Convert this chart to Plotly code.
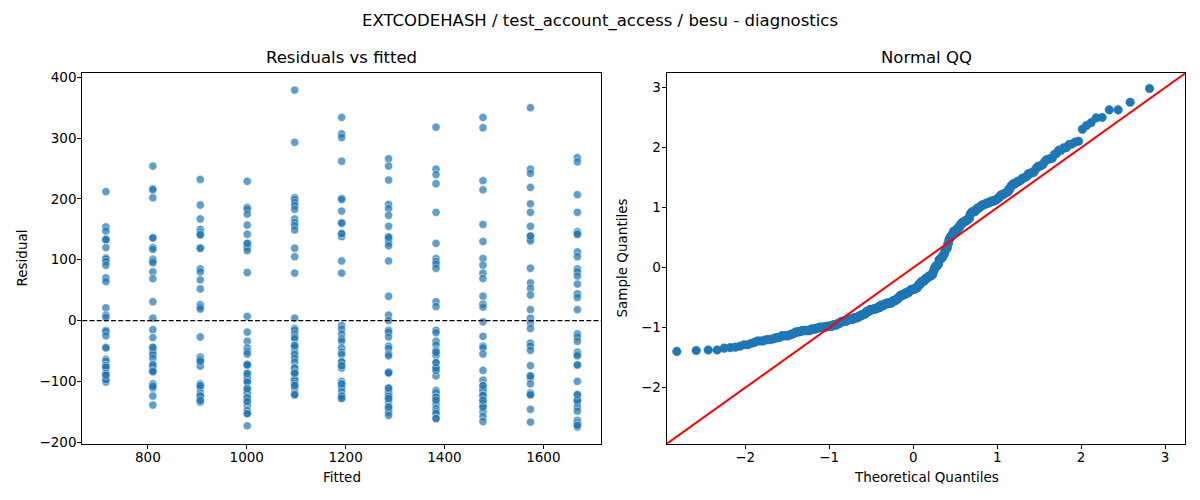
import numpy as np
from statistics import NormalDist
import plotly.graph_objects as go
from plotly.subplots import make_subplots

# ---- data ----
fitted_levels = [715, 810, 906, 1001, 1097, 1192, 1287, 1383, 1478, 1574, 1669]

res_715 = [212, 154, 147, 134, 133, 120, 103, 101, 97, 91, 70, 64, 21, 9, 5, -16, -18, -25, -44, -45,
           -64, -67, -74, -77, -87, -90, -97, -101, 133, -97, -74, -77, -87, -90]
res_810 = [254, 217, 215, 202, 136, 120, 117, 101, 98, 95, 80, 69, 31, 4, -15, -28, -44, -48, -52, -56,
           -62, -73, -77, -82, -84, -104, -108, -111, -124, -139, 136, -108, -73, -82, -84, -44]
res_906 = [232, 190, 167, 150, 145, 141, 119, 119, 85, 80, 67, 52, 26, 22, 19, -27, -60, -64, -67, -75,
           -104, -107, -111, -119, -124, -131, -134, 141, -124, -131, -107, -64, -67]
res_1001 = [229, 186, 183, 175, 157, 142, 127, 124, 120, 115, 79, 7, -19, -34, -45, -51, -55, -72, -73, -87,
            -91, -96, -101, -112, -116, -120, -127, -133, -140, -148, -153, -173, 127, -153, -127, -133,
            -101, -112, -72, -73, -87]
res_1097 = [379, 293, 202, 199, 194, 189, 183, 167, 161, 156, 149, 119, 105, 78, 4, -13, -16, -22, -27, -30,
            -41, -44, -52, -56, -62, -68, -78, -85, -87, -96, -98, -104, -107, -112, -119, -122, -122,
            -98, -104, -107, -78, -85, -87, -41]
res_1192 = [334, 307, 301, 262, 201, 199, 180, 161, 160, 143, 138, 98, 78, -8, -14, -22, -30, -34, -45, -52,
            -56, -68, -74, -78, -100, -104, -107, -111, -117, -124, -128, 143, -124, -128, -104, -68, -74]
res_1287 = [266, 254, 231, 191, 184, 173, 155, 137, 134, 128, 123, 98, 40, 9, 0, -16, -19, -27, -42, -46,
            -55, -58, -85, -86, -111, -115, -119, -124, -128, -134, -142, -146, -151, -156, 137, -142,
            -124, -128, -111, -85, -86]
res_1383 = [318, 249, 240, 225, 178, 127, 102, 97, 93, 86, 31, 23, -16, -20, -34, -40, -49, -52, -57, -69,
            -78, -82, -91, -115, -119, -126, -131, -138, -145, -150, -153, -161, -161, -126, -131, -82,
            -78, -69, -52]
res_1478 = [334, 317, 230, 215, 158, 130, 102, 91, 78, 69, 40, 27, 22, -2, -26, -42, -45, -55, -82, -98,
            -107, -112, -116, -123, -131, -137, -142, -150, -158, -166, -142, -123, -131, -107]
res_1574 = [350, 249, 242, 219, 192, 178, 155, 139, 135, 131, 86, 62, 53, 42, 18, 4, -4, -13, -37, -42,
            -49, -74, -91, -95, -104, -119, -122, -146, -167, 139, -122, -91]
res_1669 = [268, 261, 207, 178, 146, 142, 113, 105, 85, 80, 73, 60, 44, 38, 18, -22, -27, -34, -52, -56,
            -58, -73, -100, -122, -131, -134, -142, -149, -164, -168, -172, -175, 142, -172, -131, -122, -73]

residual_groups = [res_715, res_810, res_906, res_1001, res_1097, res_1192,
                   res_1287, res_1383, res_1478, res_1574, res_1669]

x_ticks_left = [800, 1000, 1200, 1400, 1600]
y_ticks_left = [-200, -100, 0, 100, 200, 300, 400]
ticks_qq = [-2, -1, 0, 1, 2, 3]

suptitle = "EXTCODEHASH / test_account_access / besu - diagnostics"

# ---- derived series ----
fitted = np.concatenate([[f] * len(g) for f, g in zip(fitted_levels, residual_groups)])
resid = np.concatenate([np.array(g, dtype=float) for g in residual_groups])

n = len(resid)
sample_q = np.sort((resid - resid.mean()) / resid.std())
nd = NormalDist()
theo_q = np.array([nd.inv_cdf(i / (n + 1)) for i in range(1, n + 1)])

# ---- layout geometry ----
W, H = 1200, 500
KY = 1.012  # vertical compensation for the capture

def py(px):
    return 1 - (px * KY) / H

left_dom = [82.3 / W, 601 / W]
right_dom = [666.7 / W, 1185.3 / W]
y_dom = [py(443.5), py(69.8)]

left_xrange = [667.25, 1716.75]
left_yrange = [-202.7, 406.7]
qq_range = [-2.935, 3.24]

FONT = "DejaVu Sans"
BLUE = "#1f77b4"

fig = make_subplots(rows=1, cols=2)

fig.add_trace(go.Scatter(
    x=fitted, y=resid, mode="markers",
    marker=dict(color=BLUE, size=8.3, opacity=0.7, line=dict(color="white", width=0.6)),
    showlegend=False, hoverinfo="x+y"), row=1, col=1)

fig.add_hline(y=0, line=dict(color="black", width=1.2, dash="5px,2.2px"), row=1, col=1)

fig.add_trace(go.Scatter(
    x=theo_q, y=sample_q, mode="markers",
    marker=dict(color=BLUE, size=8.6, line=dict(color=BLUE, width=0.5)),
    showlegend=False), row=1, col=2)

fig.add_trace(go.Scatter(
    x=qq_range, y=qq_range, mode="lines",
    line=dict(color="red", width=2), showlegend=False, hoverinfo="skip"), row=1, col=2)

axis_common = dict(
    showline=True, mirror=True, linecolor="black", linewidth=1.1,
    ticks="outside", ticklen=4, tickwidth=1.1, tickcolor="black",
    showgrid=False, zeroline=False,
    tickfont=dict(family=FONT, size=13.5, color="black"),
)

fig.update_xaxes(domain=left_dom, range=left_xrange, tickvals=x_ticks_left, ticklabelstandoff=-3,
                 **axis_common, row=1, col=1)
fig.update_yaxes(domain=y_dom, range=left_yrange, tickvals=y_ticks_left, ticklabelstandoff=-2,
                 **axis_common, row=1, col=1)
fig.update_xaxes(domain=right_dom, range=qq_range, tickvals=ticks_qq, ticklabelstandoff=-3,
                 **axis_common, row=1, col=2)
fig.update_yaxes(domain=y_dom, range=qq_range, tickvals=ticks_qq, ticklabelstandoff=-2,
                 **axis_common, row=1, col=2)

def ann(text, x, y, size, angle=0):
    return dict(text=text, x=x, y=y, xref="paper", yref="paper", showarrow=False,
                xanchor="center", yanchor="middle", textangle=angle,
                font=dict(family=FONT, size=size, color="black"))

annotations = [
    ann(suptitle, 0.5, py(17), 16.5),
    ann("Residuals vs fitted", sum(left_dom) / 2, py(54), 16.5),
    ann("Normal QQ", sum(right_dom) / 2, py(54), 16.5),
    ann("Fitted", sum(left_dom) / 2, py(477), 13.5),
    ann("Theoretical Quantiles", sum(right_dom) / 2, py(477), 13.5),
    ann("Residual", 22 / W, sum(y_dom) / 2, 13.5, -90),
    ann("Sample Quantiles", 622 / W, sum(y_dom) / 2, 13.5, -90),
]

fig.update_layout(
    width=W, height=H,
    margin=dict(l=0, r=0, t=0, b=0),
    paper_bgcolor="white", plot_bgcolor="white",
    font=dict(family=FONT, color="black"),
    annotations=annotations,
    showlegend=False,
)

fig.write_html(
    "out.html",
    config={"displayModeBar": False},
    post_script=(
        "document.documentElement.style.margin='0px';"
        "document.documentElement.style.overflow='hidden';"
        "document.body.style.margin='0px';"
        "document.body.style.padding='0px';"
        "document.body.style.overflow='hidden';"
    ),
)
